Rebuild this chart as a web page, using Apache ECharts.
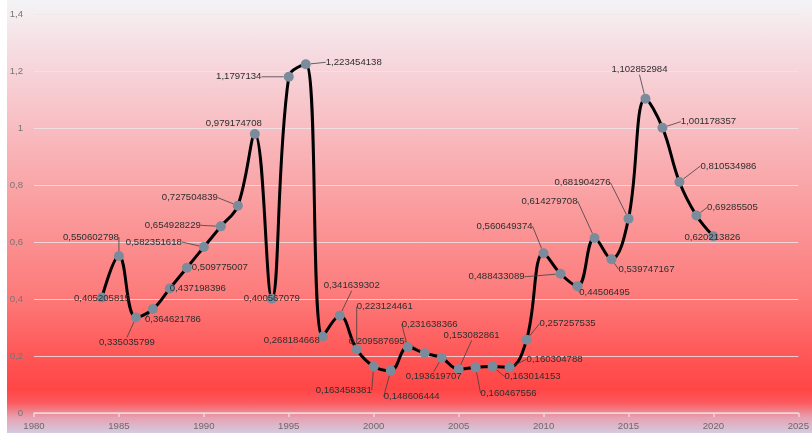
<!DOCTYPE html>
<html>
<head>
<meta charset="utf-8">
<script src="https://cdn.jsdelivr.net/npm/echarts@6/dist/echarts.min.js"></script>
<style>
  html, body { margin: 0; padding: 0; background: #ffffff; }
  #chart {
    width: 812px; height: 433px;
    background:
      linear-gradient(to right, #ffffff 0px, #ffffff 7px, rgba(255,255,255,0) 7px),
      linear-gradient(to bottom,
        #f3f3f5 0%, #f5eef0 3%, #f6d6dc 15%, #f8bcc0 30%, #fa9c9e 48%,
        #fd7b7b 68%, #ff5252 84%, #ff4646 90%, #fb5a5e 93%, #e6a2b2 96.5%, #d4cbe0 100%);
  }
</style>
</head>
<body>
<div id="chart"></div>
<script>
// ---- data ----
var years = [1984, 1985, 1986, 1987, 1988, 1989, 1990, 1991, 1992, 1993, 1994, 1995, 1996,
             1997, 1998, 1999, 2000, 2001, 2002, 2003, 2004, 2005, 2006, 2007, 2008, 2009,
             2010, 2011, 2012, 2013, 2014, 2015, 2016, 2017, 2018, 2019, 2020];
var values = [0.405205815, 0.550602798, 0.335035799, 0.364621786, 0.437198396, 0.509775007,
              0.582351618, 0.654928229, 0.727504839, 0.979174708, 0.400567079, 1.1797134,
              1.223454138, 0.268184668, 0.341639302, 0.223124461, 0.163458381, 0.148606444,
              0.231638366, 0.209587695, 0.193619707, 0.153082861, 0.160467556, 0.163014153,
              0.160304788, 0.257257535, 0.560649374, 0.488433089, 0.44506495, 0.614279708,
              0.539747167, 0.681904276, 1.102852984, 1.001178357, 0.810534986, 0.69285505,
              0.620213826];
var xTicks = { min: 1980, max: 2025, interval: 5 };
var yTicks = { min: 0, max: 1.4, interval: 0.2 };

// ---- label placement (offsets of each data label from its point, px) ----
var labelOffsets = [
  [0, 1], [-28, -19], [-9, 25], [20, 10], [28, 0], [33, 0], [-50, -5], [-48, -1], [-48, -8],
  [-21, -11], [0, 0], [-50, 0], [48, -2], [-31, 4], [12, -30], [28, -43], [-30, 24], [21, 26],
  [22, -23], [-48, -12], [-8, 19], [13, -34], [33, 26], [40, 10], [45, -8], [41, -16],
  [-39, -27], [-64, 3], [27, 6], [-45, -37], [35, 10], [-46, -36], [-6, -29], [46, -6],
  [49, -16], [36, -8], [-1, 1]
];
var noLeader = [0, 9, 10, 13, 36];

function fmtComma(v) { return String(v).replace('.', ','); }

var seriesData = years.map(function (y, i) {
  var item = { value: [y, values[i]] };
  if (noLeader.indexOf(i) >= 0) item.labelLine = { show: false };
  return item;
});

var chart = echarts.init(document.getElementById('chart'), null, { renderer: 'canvas' });
chart.setOption({
  backgroundColor: 'transparent',
  animation: false,
  grid: { left: 34, right: 10, top: 14, bottom: 20, containLabel: false },
  xAxis: {
    type: 'value',
    min: xTicks.min, max: xTicks.max, interval: xTicks.interval,
    axisLine: { show: true, lineStyle: { color: '#ead8dc', width: 1.5 } },
    axisTick: { show: true, length: 4, inside: false, lineStyle: { color: '#ead8dc', width: 1.5 } },
    axisLabel: {
      color: '#6a6a6a', fontSize: 9.6, fontFamily: 'Liberation Sans', margin: 8,
      formatter: function (v) { return String(v); }
    },
    splitLine: { show: false }
  },
  yAxis: {
    type: 'value',
    min: yTicks.min, max: yTicks.max, interval: yTicks.interval,
    axisLine: { show: false },
    axisTick: { show: false },
    axisLabel: {
      color: '#767676', fontSize: 9.6, fontFamily: 'Liberation Sans', margin: 11,
      formatter: function (v) { return fmtComma(Number(v.toFixed(1))); }
    },
    splitLine: { show: true, lineStyle: { color: 'rgba(236,230,234,0.8)', width: 1 } }
  },
  series: [{
    type: 'line',
    data: seriesData,
    smooth: 0.4,
    symbol: 'circle',
    symbolSize: 10,
    itemStyle: { color: '#7a8c9c', borderWidth: 0 },
    lineStyle: { color: '#000000', width: 3 },
    label: {
      show: true,
      position: 'inside',
      color: '#2e2e2e',
      fontSize: 9.6,
      fontFamily: 'Liberation Sans',
      formatter: function (p) { return fmtComma(p.value[1]); }
    },
    labelLine: { show: true, lineStyle: { color: '#404040', width: 0.8 } },
    labelLayout: function (p) {
      var o = labelOffsets[p.dataIndex];
      return { dx: o[0], dy: o[1] };
    },
    z: 3
  }]
});
</script>
</body>
</html>
